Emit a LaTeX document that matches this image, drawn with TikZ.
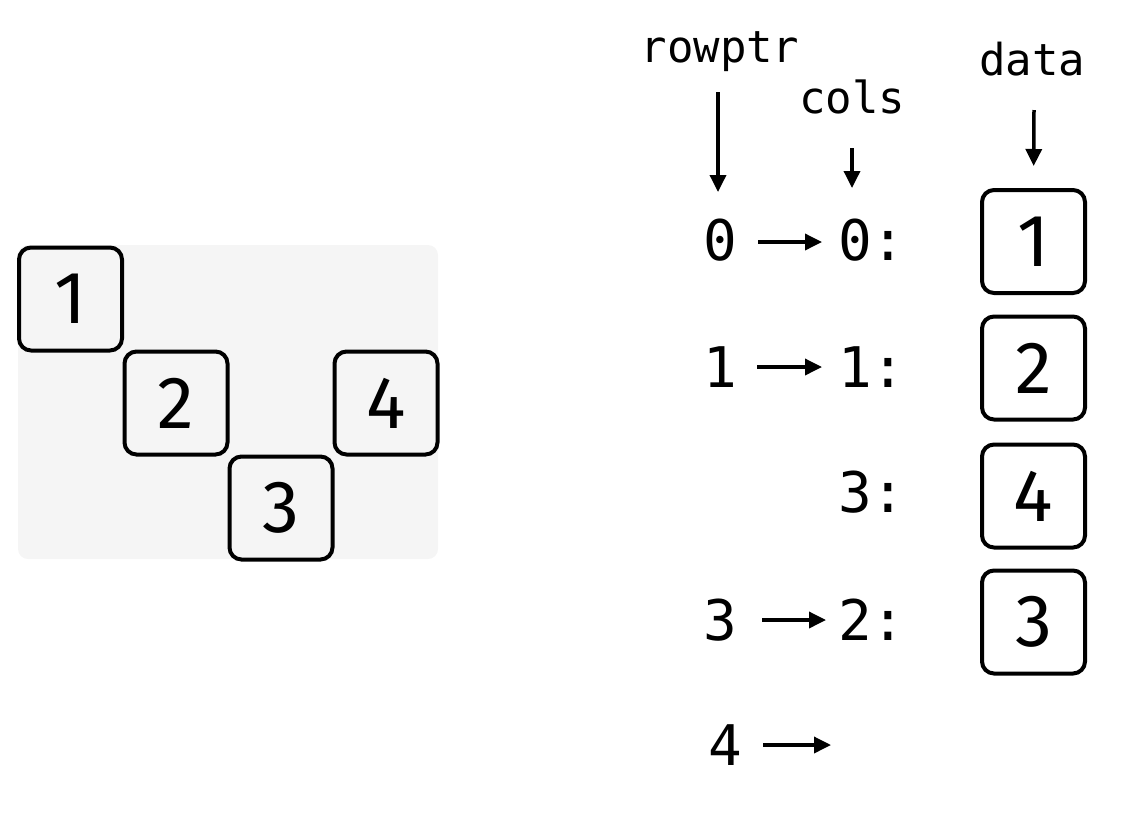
\documentclass[tikz,border=0pt]{standalone}
\usepackage{fontspec}
\setmainfont{Fira Sans}
\newfontfamily\monof{DejaVu Sans Mono}
\usetikzlibrary{arrows.meta,calc}
\begin{document}
\begin{tikzpicture}[x=1pt,y=-1pt,
  cell/.style={draw=black,line width=4pt,rounded corners=12pt,minimum width=103pt,minimum height=103pt,inner sep=0pt,font=\fontsize{74}{74}\selectfont},
  lbl/.style={inner sep=0pt,anchor=base,font=\monof\fontsize{44}{44}\selectfont},
  ent/.style={inner sep=0pt,font=\monof\fontsize{56}{56}\selectfont},
  arr/.style={line width=3.5pt,-{Triangle[length=17pt,width=16pt]}}]
\useasboundingbox (0,0) rectangle (1127,815);
% background matrix
\fill[fill={rgb,255:red,245;green,245;blue,245},rounded corners=10pt] (18,245) rectangle (438,559);
\node[cell,fill={rgb,255:red,245;green,245;blue,245}] (m1) at (70.5,299) {1};
\node[cell,fill={rgb,255:red,245;green,245;blue,245}] (m2) at (176,403) {2};
\node[cell,fill={rgb,255:red,245;green,245;blue,245}] (m4) at (386,403) {4};
\node[cell,fill={rgb,255:red,245;green,245;blue,245}] (m3) at (281,508) {3};
% labels
\node[lbl] (rowptr) at (720,62) {rowptr};
\node[lbl] (cols) at (852,113) {cols};
\node[lbl] (data) at (1032,75) {data};
% rowptr entries
\node[ent,anchor=base] (r0) at (720,260) {0};
\node[ent,anchor=base] (r1) at (720,387) {1};
\node[ent,anchor=base] (r3) at (720,640) {3};
\node[ent,anchor=base] (r4) at (725,765) {4};
% cols entries
\node[ent,anchor=base west] (c0) at (838,260) {0:};
\node[ent,anchor=base west] (c1) at (838,387) {1:};
\node[ent,anchor=base west] (c3) at (838,512) {3:};
\node[ent,anchor=base west] (c2) at (838,640) {2:};
\coordinate (end4) at (831,745);
% data boxes
\node[cell] (d1) at (1033.5,241.5) {1};
\node[cell] (d2) at (1033.5,368) {2};
\node[cell] (d4) at (1033.5,496) {4};
\node[cell] (d3) at (1033.5,622) {3};
% vertical arrows
\draw[arr] ($(rowptr.base)+(-2,30)$) -- ($(r0.base)+(-2,-68)$);
\draw[arr] ($(cols.base)+(0,35)$) -- ($(c0.base west)+(14,-72)$);
\draw[arr,shorten >=22pt] ($(data.base)+(2,35)$) -- (d1.north);
% horizontal arrows
\draw[arr] ($(r0.base)+(38,-18)$) -- ($(c0.base west)+(-16,-18)$);
\draw[arr] ($(r1.base)+(37,-20)$) -- ($(c1.base west)+(-16,-20)$);
\draw[arr] ($(r3.base)+(42,-20)$) -- ($(c2.base west)+(-12,-20)$);
\draw[arr] ($(r4.base)+(38,-20)$) -- (end4);
\end{tikzpicture}
\end{document}
